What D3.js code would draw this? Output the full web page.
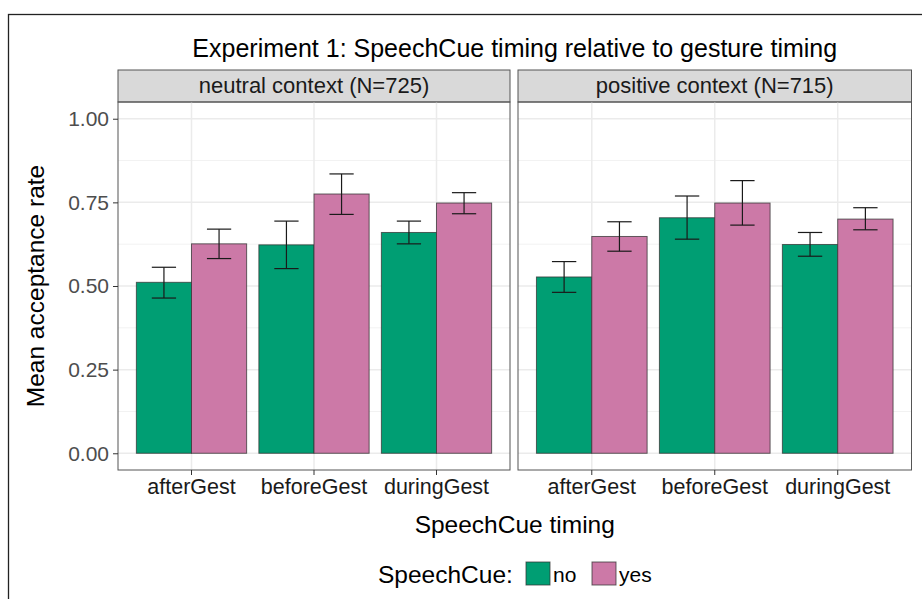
<!DOCTYPE html>
<html>
<head>
<meta charset="utf-8">
<script src="https://cdn.jsdelivr.net/npm/d3@7"></script>
<style>
  body { margin: 0; background: #fff; }
  text { font-family: "Liberation Sans", Arial, sans-serif; }
</style>
</head>
<body>
<div id="canvas"></div>
<script>
// chart data
var categories = ['afterGest', 'beforeGest', 'duringGest'];
var cues = ['no', 'yes'];
var panelTitles = ['neutral context (N=725)', 'positive context (N=715)'];
var yTicks = [0, 0.25, 0.5, 0.75, 1];
var yMinorTicks = [0.125, 0.375, 0.625, 0.875];

var neutralNo = [0.511, 0.623, 0.660];
var neutralNoLow = [0.464, 0.552, 0.626];
var neutralNoHigh = [0.556, 0.694, 0.694];
var neutralYes = [0.626, 0.775, 0.748];
var neutralYesLow = [0.582, 0.714, 0.716];
var neutralYesHigh = [0.670, 0.835, 0.779];

var positiveNo = [0.527, 0.704, 0.624];
var positiveNoLow = [0.481, 0.640, 0.589];
var positiveNoHigh = [0.573, 0.769, 0.660];
var positiveYes = [0.648, 0.748, 0.700];
var positiveYesLow = [0.604, 0.682, 0.668];
var positiveYesHigh = [0.692, 0.815, 0.734];

var colors = {no: '#009E73', yes: '#CC79A7'};

function rows(no, noLow, noHigh, yes, yesLow, yesHigh) {
  var out = [];
  categories.forEach(function (c, i) {
    out.push({cat: c, cue: 'no', value: no[i], low: noLow[i], high: noHigh[i]});
    out.push({cat: c, cue: 'yes', value: yes[i], low: yesLow[i], high: yesHigh[i]});
  });
  return out;
}

var panelData = [
  rows(neutralNo, neutralNoLow, neutralNoHigh, neutralYes, neutralYesLow, neutralYesHigh),
  rows(positiveNo, positiveNoLow, positiveNoHigh, positiveYes, positiveYesLow, positiveYesHigh)
];

var W = 922, H = 599;
var panelTop = 102, panelBottom = 470, stripTop = 70;
var panelX = [[118, 510], [518, 911.5]];

var svg = d3.select('#canvas')
  .append('svg')
  .attr('width', W)
  .attr('height', H);

// outer frame (runs off the right and bottom)
svg.append('rect')
  .attr('x', 8.5).attr('y', 14.5)
  .attr('width', 1000).attr('height', 1000)
  .attr('fill', 'none')
  .attr('stroke', '#222')
  .attr('stroke-width', 1.3);

var y = d3.scaleLinear()
  .domain([-0.05, 1.05])
  .range([panelBottom, panelTop]);

svg.append('text')
  .attr('x', (panelX[0][0] + panelX[1][1]) / 2)
  .attr('y', 57)
  .attr('text-anchor', 'middle')
  .attr('font-size', '25px')
  .attr('fill', '#000')
  .text('Experiment 1: SpeechCue timing relative to gesture timing');

panelData.forEach(function (data, p) {
  var x0 = panelX[p][0], x1 = panelX[p][1];

  var x = d3.scaleBand()
    .domain(categories)
    .range([x0, x1])
    .paddingInner(0.1)
    .paddingOuter(0.15);

  var xCue = d3.scaleBand()
    .domain(cues)
    .range([0, x.bandwidth()]);

  var g = svg.append('g').attr('class', 'panel-' + p);

  // strip
  g.append('rect')
    .attr('x', x0).attr('y', stripTop)
    .attr('width', x1 - x0).attr('height', panelTop - stripTop)
    .attr('fill', '#d9d9d9')
    .attr('stroke', '#555')
    .attr('stroke-width', 1);

  g.append('text')
    .attr('x', (x0 + x1) / 2)
    .attr('y', 93)
    .attr('text-anchor', 'middle')
    .attr('font-size', '22px')
    .attr('fill', '#1a1a1a')
    .text(panelTitles[p]);

  // grid
  g.selectAll('.minor')
    .data(yMinorTicks)
    .enter().append('line')
    .attr('x1', x0).attr('x2', x1)
    .attr('y1', d => y(d)).attr('y2', d => y(d))
    .attr('stroke', '#f2f2f2')
    .attr('stroke-width', 1);

  g.selectAll('.major')
    .data(yTicks)
    .enter().append('line')
    .attr('x1', x0).attr('x2', x1)
    .attr('y1', d => y(d)).attr('y2', d => y(d))
    .attr('stroke', '#ebebeb')
    .attr('stroke-width', 1.5);

  g.selectAll('.vgrid')
    .data(categories)
    .enter().append('line')
    .attr('x1', d => x(d) + x.bandwidth() / 2)
    .attr('x2', d => x(d) + x.bandwidth() / 2)
    .attr('y1', panelTop).attr('y2', panelBottom)
    .attr('stroke', '#ebebeb')
    .attr('stroke-width', 1.5);

  // bars
  g.selectAll('.bar')
    .data(data)
    .enter().append('rect')
    .attr('x', d => x(d.cat) + xCue(d.cue))
    .attr('y', d => y(d.value))
    .attr('width', xCue.bandwidth())
    .attr('height', d => y(0) - y(d.value))
    .attr('fill', d => colors[d.cue])
    .attr('stroke', '#333')
    .attr('stroke-opacity', 0.75)
    .attr('stroke-width', 1);

  // error bars
  var capW = xCue.bandwidth() * 0.44;
  var eb = g.selectAll('.err')
    .data(data)
    .enter().append('g')
    .attr('transform', d => 'translate(' + (x(d.cat) + xCue(d.cue) + xCue.bandwidth() / 2) + ',0)');

  eb.append('line')
    .attr('x1', 0).attr('x2', 0)
    .attr('y1', d => y(d.low)).attr('y2', d => y(d.high));
  eb.append('line')
    .attr('x1', -capW / 2).attr('x2', capW / 2)
    .attr('y1', d => y(d.low)).attr('y2', d => y(d.low));
  eb.append('line')
    .attr('x1', -capW / 2).attr('x2', capW / 2)
    .attr('y1', d => y(d.high)).attr('y2', d => y(d.high));
  eb.selectAll('line')
    .attr('stroke', '#1a1a1a')
    .attr('stroke-width', 1.2);

  // panel border
  g.append('rect')
    .attr('x', x0).attr('y', panelTop)
    .attr('width', x1 - x0).attr('height', panelBottom - panelTop)
    .attr('fill', 'none')
    .attr('stroke', '#555')
    .attr('stroke-width', 1);

  // x axis
  var xAxis = g.append('g')
    .attr('transform', 'translate(0,' + panelBottom + ')')
    .call(d3.axisBottom(x).tickSize(5).tickPadding(4));
  xAxis.select('.domain').remove();
  xAxis.selectAll('line').attr('stroke', '#333');
  xAxis.selectAll('text')
    .attr('font-size', '21.5px')
    .attr('fill', '#1a1a1a')
    .attr('font-family', '"Liberation Sans", Arial, sans-serif');

  if (p === 0) {
    var yAxis = g.append('g')
      .attr('transform', 'translate(' + x0 + ',0)')
      .call(d3.axisLeft(y).tickValues(yTicks).tickFormat(d3.format('.2f')).tickSize(5).tickPadding(4));
    yAxis.select('.domain').remove();
    yAxis.selectAll('line').attr('stroke', '#333');
    yAxis.selectAll('text')
      .attr('font-size', '21px')
      .attr('fill', '#4d4d4d')
      .attr('font-family', '"Liberation Sans", Arial, sans-serif');
  }
});

// axis titles
svg.append('text')
  .attr('transform', 'translate(44,' + ((panelTop + panelBottom) / 2) + ') rotate(-90)')
  .attr('text-anchor', 'middle')
  .attr('font-size', '24.5px')
  .attr('fill', '#000')
  .text('Mean acceptance rate');

svg.append('text')
  .attr('x', (panelX[0][0] + panelX[1][1]) / 2)
  .attr('y', 533)
  .attr('text-anchor', 'middle')
  .attr('font-size', '24.5px')
  .attr('fill', '#000')
  .text('SpeechCue timing');

// legend
var legend = svg.append('g').attr('class', 'legend');
legend.append('text')
  .attr('x', 378).attr('y', 583)
  .attr('font-size', '24.5px')
  .attr('fill', '#000')
  .text('SpeechCue:');

var legendX = {no: 526, yes: 592};
cues.forEach(function (c) {
  legend.append('rect')
    .attr('x', legendX[c]).attr('y', 562)
    .attr('width', 24).attr('height', 23)
    .attr('fill', colors[c])
    .attr('stroke', '#333')
    .attr('stroke-opacity', 0.75);
  legend.append('text')
    .attr('x', legendX[c] + 27).attr('y', 582)
    .attr('font-size', '21px')
    .attr('fill', '#000')
    .text(c);
});
</script>
</body>
</html>
